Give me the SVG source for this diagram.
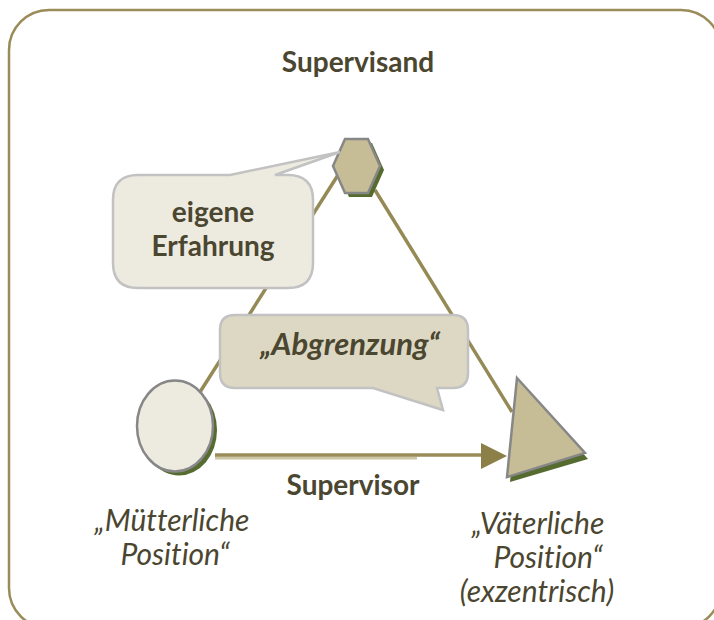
<svg xmlns="http://www.w3.org/2000/svg" width="714" height="620" viewBox="0 0 714 620">
<style>
.t{font-family:Lato,"Noto Sans","Liberation Sans",sans-serif;fill:#4b4630;text-anchor:middle;font-variant-ligatures:none;font-feature-settings:"liga" 0,"dlig" 0}
.b{font-weight:bold}
.i{font-style:italic}
.conn{stroke:#958a55;stroke-width:3.5;fill:none}
.shape{stroke:#878787;stroke-width:2.5}
.shadow{fill:#556b2f}
.callout{stroke:#c2c2c2;stroke-width:2.5}
</style>
<rect x="9" y="10" width="712" height="618" rx="40" fill="#ffffff" stroke="#9a8c58" stroke-width="2.5"/>
<g id="connectors">
<line class="conn" x1="338" y1="175" x2="200" y2="392"/>
<line class="conn" x1="375" y1="190" x2="512" y2="412"/>
<line x1="215" y1="458" x2="417" y2="458" stroke="#cdc6a4" stroke-width="3"/>
<line x1="215" y1="455" x2="485" y2="455" stroke="#9a8c58" stroke-width="3.5"/>
<polygon points="481,443 507,456 481,469" fill="#8c8048"/>
</g>
<g id="supervisand">
<polygon class="shadow" points="349,143 372,143 384,170 372,197 349,197 337,170"/>
<polygon class="shape" fill="#c6bd96" points="345,139 368,139 380,166 368,193 345,193 333,166"/>
</g>
<g id="muetterlich">
<ellipse class="shadow" cx="179" cy="430" rx="38" ry="45.5"/>
<ellipse class="shape" fill="#edeae0" cx="175" cy="426" rx="38" ry="45.5"/>
</g>
<g id="vaeterlich">
<polygon class="shadow" points="520,383 588,459 510,482"/>
<polygon class="shape" fill="#c6bd96" points="517,378 585,453 507,477"/>
</g>
<g id="callout-erfahrung">
<path class="callout" fill="#edeae0" d="M138,175 L230,175 L340,152 L275,175 L288,175 Q313,175 313,200 L313,263 Q313,288 288,288 L138,288 Q113,288 113,263 L113,200 Q113,175 138,175 Z"/>
<text class="t b" x="213" y="222" font-size="28">eigene</text>
<text class="t b" x="213" y="256" font-size="28">Erfahrung</text>
</g>
<g id="callout-abgrenzung">
<path class="callout" fill="#ddd8c3" d="M235,315 L453,315 Q468,315 468,330 L468,373 Q468,388 453,388 L437,388 L443,410 L373,388 L235,388 Q220,388 220,373 L220,330 Q220,315 235,315 Z"/>
<text class="t b i" x="350" y="355" font-size="31">„Abgrenzung“</text>
</g>
<g id="labels">
<text class="t b" x="358" y="72" font-size="28">Supervisand</text>
<text class="t b" x="353" y="495" font-size="28">Supervisor</text>
<text class="t i" x="172" y="531" font-size="30">„Mütterliche</text>
<text class="t i" x="175" y="565" font-size="30">Position“</text>
<text class="t i" x="538" y="534" font-size="30">„Väterliche</text>
<text class="t i" x="548" y="568" font-size="30">Position“</text>
<text class="t i" x="537" y="602" font-size="30">(exzentrisch)</text>
</g>
</svg>
